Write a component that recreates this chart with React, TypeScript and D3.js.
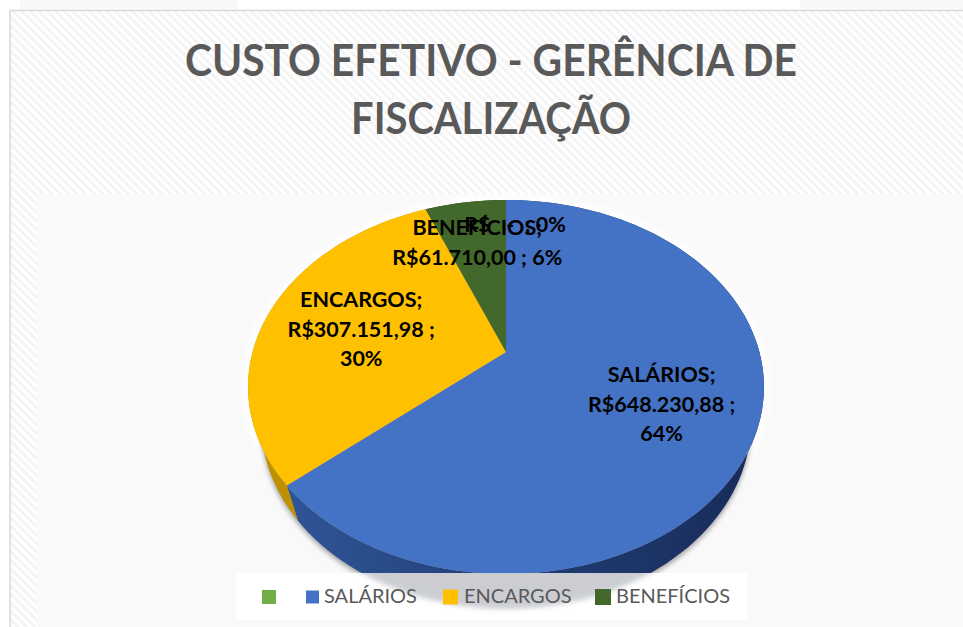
import * as d3 from 'd3';

const TITLE_LINES = ['CUSTO EFETIVO - GERÊNCIA DE', 'FISCALIZAÇÃO'];
const TITLE_WIDTHS = [612, 280];
const CATEGORIES = ['', 'SALÁRIOS', 'ENCARGOS', 'BENEFÍCIOS'];
const VALUES = [0, 648230.88, 307151.98, 61710.0];
const COLORS = ['#70ad47', '#4472c4', '#ffc000', '#43682b'];
const SIDE_COLORS = ['#4f7a32', 'url(#blueSide)', '#bf9000', '#2f4a1e'];

// where each label sits along its slice (0 centre, 1 rim) + small nudge
const LABEL_RADIUS = [0.85, 0.65, 0.6, 0.7];
const LABEL_NUDGE = [[9, 5], [-2, 1], [-1, 3], [1, 1]];
const LEGEND_KEY_X = [262, 306, 443, 595];
const LEGEND_KEY_SIZE = [14, 13, 15, 16];
const LEGEND_TEXT_X = [0, 324, 464, 616];

const WIDTH = 963;
const HEIGHT = 627;
const FONT = 'Lato, Carlito, sans-serif';

// perspective of the tilted pie: unit circle -> screen
const CX = 506;
const PX = 253.4;
const YA = 114.6;
const YB = 352;
const YC = -0.187;
const DEPTH = 35;

const project = (theta: number, r = 1, depth = 0): [number, number] => {
  const u = Math.sin(theta) * r;
  const v = -Math.cos(theta) * r;
  const w = 1 + YC * v;
  const shrink = depth ? 0.95 : 1;
  return [CX + (PX * u * shrink) / w, (YA * v + YB) / w + depth];
};

const line = d3.line();
const arcPoints = (a0: number, a1: number, depth = 0) => {
  const n = Math.max(2, Math.ceil(((a1 - a0) / (2 * Math.PI)) * 180));
  return d3.range(n + 1).map(i => project(a0 + ((a1 - a0) * i) / n, 1, depth));
};

const slices = d3.pie<number>().sort(null)(VALUES);
const total = d3.sum(VALUES);
const brl = d3.formatLocale({
  decimal: ',', thousands: '.', grouping: [3], currency: ['R$', ''],
}).format('$,.2f');
const pct = d3.format('.0%');

const labelLines = (i: number): string[] => {
  if (VALUES[i] === 0) return ['R$   -  ; 0%'];
  return [
    `${CATEGORIES[i]};`,
    `${brl(VALUES[i])} ; ${pct(VALUES[i] / total)}`,
  ];
};

export default function App() {
  const fullTop = line(arcPoints(0, 2 * Math.PI)) + 'Z';
  const fullBottom = line(arcPoints(0, 2 * Math.PI, DEPTH)) + 'Z';

  return (
    <svg width={WIDTH} height={HEIGHT} style={{ position: 'fixed', left: 0, top: 0, background: '#fff' }}>
      <defs>
        <pattern id="hatch" width="6" height="6" patternUnits="userSpaceOnUse" patternTransform="rotate(-45)">
          <rect width="6" height="6" fill="#ffffff" />
          <rect width="3" height="6" fill="#f4f4f4" />
        </pattern>
        <linearGradient id="blueSide" x1="0" x2="1" y1="0" y2="0">
          <stop offset="0" stopColor="#2f5597" />
          <stop offset="0.45" stopColor="#223f78" />
          <stop offset="1" stopColor="#182b58" />
        </linearGradient>
        <filter id="blur6" x="-10%" y="-10%" width="120%" height="120%">
          <feGaussianBlur stdDeviation="5" />
        </filter>
        <filter id="blur2" x="-10%" y="-10%" width="120%" height="120%">
          <feGaussianBlur stdDeviation="2.5" />
        </filter>
        <clipPath id="legendClip">
          <rect x={236} y={573} width={511} height={47} />
        </clipPath>
      </defs>

      {/* page bands above the chart */}
      <rect x={20} y={0} width={218} height={10} fill="#f8f8f8" />
      <rect x={800} y={0} width={163} height={10} fill="#f8f8f8" />

      {/* chart area */}
      <rect x={10} y={10.5} width={WIDTH} height={HEIGHT} fill="url(#hatch)" stroke="#d9d9d9" strokeWidth={1.5} />
      <rect x={37} y={194} width={WIDTH - 37} height={HEIGHT - 194} fill="#f9f9f9" />

      <g fontFamily={FONT} fontWeight={700} fontSize={44} fill="#595959" textAnchor="middle">
        {TITLE_LINES.map((t, i) => (
          <text key={t} x={491} y={76 + i * 58} textLength={TITLE_WIDTHS[i]} lengthAdjust="spacingAndGlyphs">{t}</text>
        ))}
      </g>

      {/* glow + shadow under the pie */}
      <path d={fullTop} fill="none" stroke="#ffffff" strokeWidth={10} filter="url(#blur6)" />
      <path d={fullBottom} fill="#5a5a5a" opacity={0.55} filter="url(#blur2)" transform="translate(0,3)" />

      {/* pie sides */}
      {slices.map((s, i) => (
        <path
          key={`side${i}`}
          d={line([...arcPoints(s.startAngle, s.endAngle), ...arcPoints(s.startAngle, s.endAngle, DEPTH).reverse()]) + 'Z'}
          fill={SIDE_COLORS[i]}
        />
      ))}

      {/* pie top */}
      {slices.map((s, i) => (
        <path
          key={`top${i}`}
          d={line([project(0, 0), ...arcPoints(s.startAngle, s.endAngle)]) + 'Z'}
          fill={COLORS[i]}
        />
      ))}

      {/* legend box sits over the pie, shadow still shows through */}
      <rect x={236} y={573} width={511} height={47} fill="#ffffff" />
      <g clipPath="url(#legendClip)">
        <path d={fullBottom} fill="#a9adb5" opacity={0.6} filter="url(#blur2)" />
      </g>
      <g fontFamily={FONT} fontSize={20} fill="#595959">
        {CATEGORIES.map((c, i) => (
          <g key={`lg${i}`}>
            <rect
              x={LEGEND_KEY_X[i]}
              y={597 - LEGEND_KEY_SIZE[i] / 2}
              width={LEGEND_KEY_SIZE[i]}
              height={LEGEND_KEY_SIZE[i]}
              fill={COLORS[i]}
            />
            {c && <text x={LEGEND_TEXT_X[i]} y={603}>{c}</text>}
          </g>
        ))}
      </g>

      {/* data labels */}
      <g fontFamily={FONT} fontWeight={700} fontSize={21.5} fill="#000" textAnchor="middle">
        {slices.map((s, i) => {
          const [x, y] = project((s.startAngle + s.endAngle) / 2, LABEL_RADIUS[i]);
          const lines = labelLines(i);
          // the two long labels wrap the percent on a third line in the big slices
          const rows = i === 1 || i === 2
            ? [lines[0], lines[1].split(' ; ')[0] + ' ;', lines[1].split(' ; ')[1]]
            : lines;
          const top = y + LABEL_NUDGE[i][1] - ((rows.length - 1) * 29.5) / 2 + 7;
          return rows.map((r, j) => (
            <text key={`${i}-${j}`} x={x + LABEL_NUDGE[i][0]} y={top + j * 29.5} style={{ whiteSpace: 'pre' }}>{r}</text>
          ));
        })}
      </g>
    </svg>
  );
}
